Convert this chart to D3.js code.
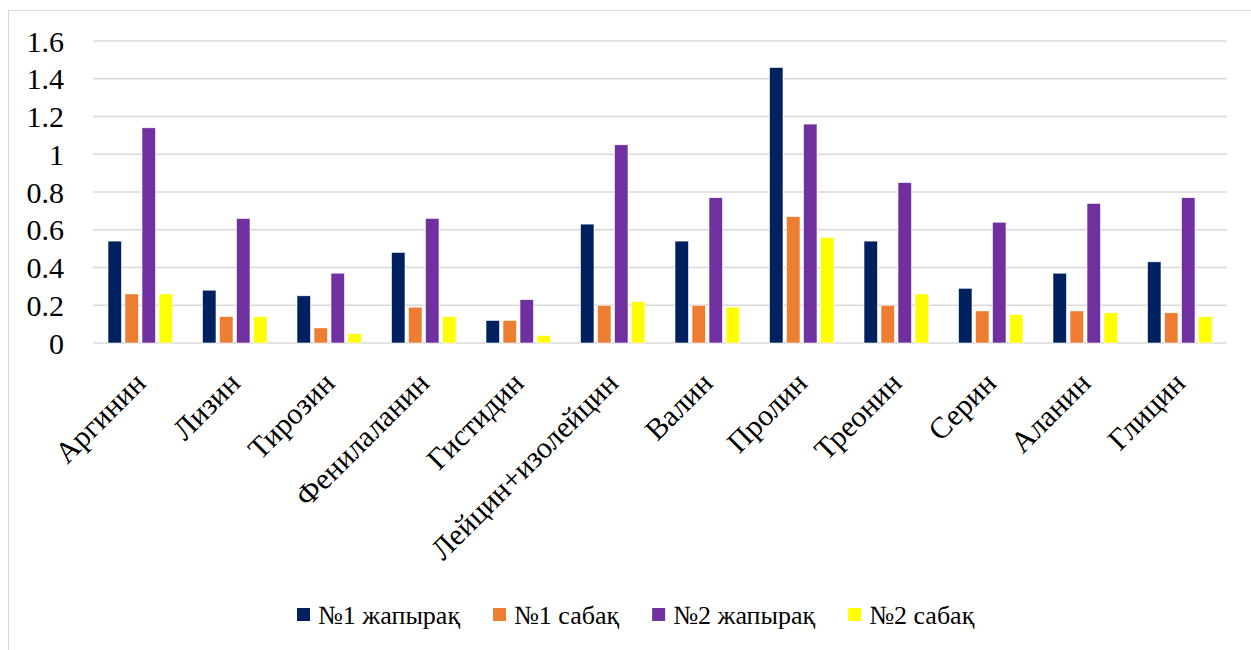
<!DOCTYPE html>
<html>
<head>
<meta charset="utf-8">
<script src="https://cdn.jsdelivr.net/npm/d3@7/dist/d3.min.js"></script>
<style>
  html, body { margin: 0; padding: 0; background: #fff; }
  svg { display: block; }
</style>
</head>
<body>
<svg id="chart" width="1251" height="650"></svg>
<script>
// Amino acid content by sample
const categories = ["Аргинин", "Лизин", "Тирозин", "Фенилаланин", "Гистидин",
  "Лейцин+изолейцин", "Валин", "Пролин", "Треонин", "Серин", "Аланин", "Глицин"];

const seriesNames = ["№1 жапырақ", "№1 сабақ", "№2 жапырақ", "№2 сабақ"];
const seriesColors = ["#002060", "#ED7D31", "#7030A0", "#FFFF00"];

const leaf1 = [0.54, 0.28, 0.25, 0.48, 0.12, 0.63, 0.54, 1.46, 0.54, 0.29, 0.37, 0.43];
const stem1 = [0.26, 0.14, 0.08, 0.19, 0.12, 0.20, 0.20, 0.67, 0.20, 0.17, 0.17, 0.16];
const leaf2 = [1.14, 0.66, 0.37, 0.66, 0.23, 1.05, 0.77, 1.16, 0.85, 0.64, 0.74, 0.77];
const stem2 = [0.26, 0.14, 0.05, 0.14, 0.04, 0.22, 0.19, 0.56, 0.26, 0.15, 0.16, 0.14];

const yTicks = [0, 0.2, 0.4, 0.6, 0.8, 1, 1.2, 1.4, 1.6];
const yTickLabels = ["0", "0.2", "0.4", "0.6", "0.8", "1", "1.2", "1.4", "1.6"];

const seriesValues = [leaf1, stem1, leaf2, stem2];

// pick the first installed Times-like serif face
function pickSerif() {
  const ctx = document.createElement("canvas").getContext("2d");
  const probe = "1.6 Аргинин №1 жапырақ mmmWWWiii";
  const widthWith = f => { ctx.font = `40px ${f}`; return ctx.measureText(probe).width; };
  const candidates = ["Liberation Serif", "Tinos", "Times New Roman", "DejaVu Serif"];
  for (const c of candidates) {
    const w = widthWith(`'${c}', monospace`);
    const wm = widthWith("monospace");
    const w2 = widthWith(`'${c}', sans-serif`);
    const ws = widthWith("sans-serif");
    if (w !== wm || w2 !== ws) return `'${c}', serif`;
  }
  return "serif";
}
const serif = pickSerif();

const svg = d3.select("#chart");

// chart frame
svg.append("rect")
  .attr("x", 8.5).attr("y", 10.5)
  .attr("width", 1300).attr("height", 700)
  .attr("fill", "none").attr("stroke", "#d9d9d9").attr("stroke-width", 1);

const plot = { left: 93, right: 1227, top: 41, bottom: 343 };

const x0 = d3.scaleBand().domain(categories).range([plot.left, plot.right]).padding(0);
const inner = 64.5;
const x1 = d3.scaleBand().domain(seriesNames)
  .range([(x0.bandwidth() - inner) / 2, (x0.bandwidth() + inner) / 2])
  .paddingInner(0.206).paddingOuter(0);
const y = d3.scaleLinear().domain([0, 1.6]).range([plot.bottom, plot.top]);

// horizontal gridlines
svg.append("g").selectAll("line").data(yTicks).join("line")
  .attr("x1", plot.left).attr("x2", plot.right)
  .attr("y1", d => y(d)).attr("y2", d => y(d))
  .attr("stroke", "#d9d9d9").attr("stroke-width", 1.3);

// y axis labels
const yAxis = d3.axisLeft(y).tickValues(yTicks)
  .tickFormat((d, i) => yTickLabels[i]).tickSize(0).tickPadding(0);
const yg = svg.append("g").attr("transform", "translate(64,0)").call(yAxis);
yg.attr("font-family", serif).attr("font-size", 30);
yg.select(".domain").remove();
yg.selectAll("text")
  .style("font-family", serif)
  .attr("fill", "#000").attr("dy", "0.34em");

// bars
const rows = categories.map((c, i) => ({ cat: c, vals: seriesNames.map((s, k) => ({ s, k, v: seriesValues[k][i] })) }));
const groups = svg.append("g").selectAll("g").data(rows).join("g")
  .attr("transform", d => `translate(${x0(d.cat)},0)`);
groups.selectAll("rect").data(d => d.vals).join("rect")
  .attr("x", d => x1(d.s))
  .attr("width", x1.bandwidth())
  .attr("y", d => y(d.v))
  .attr("height", d => y(0) - y(d.v))
  .attr("fill", d => seriesColors[d.k])
  .attr("stroke", "#ffffff").attr("stroke-width", 0.6);

// category labels, rotated
const xAxis = d3.axisBottom(x0).tickSize(0).tickPadding(0);
const xg = svg.append("g").attr("transform", `translate(0,${plot.bottom})`).call(xAxis);
xg.attr("font-family", serif).attr("font-size", 30);
xg.select(".domain").remove();
xg.selectAll(".tick text")
  .style("font-family", serif)
  .attr("fill", "#000")
  .attr("text-anchor", "end")
  .attr("dy", 0).attr("y", 0)
  .attr("transform", "translate(7,42) rotate(-45)");

// legend
const legend = svg.append("g").attr("font-family", serif).attr("font-size", 26);
let lx = 297;
const ly = 615;
seriesNames.forEach((name, k) => {
  legend.append("rect")
    .attr("x", lx).attr("y", ly - 7).attr("width", 13).attr("height", 13)
    .attr("fill", seriesColors[k]);
  const t = legend.append("text")
    .attr("x", lx + 21).attr("y", ly).attr("dy", "0.35em")
    .style("font-family", serif)
    .text(name);
  lx += 21 + t.node().getComputedTextLength() + 33;
});
</script>
</body>
</html>
